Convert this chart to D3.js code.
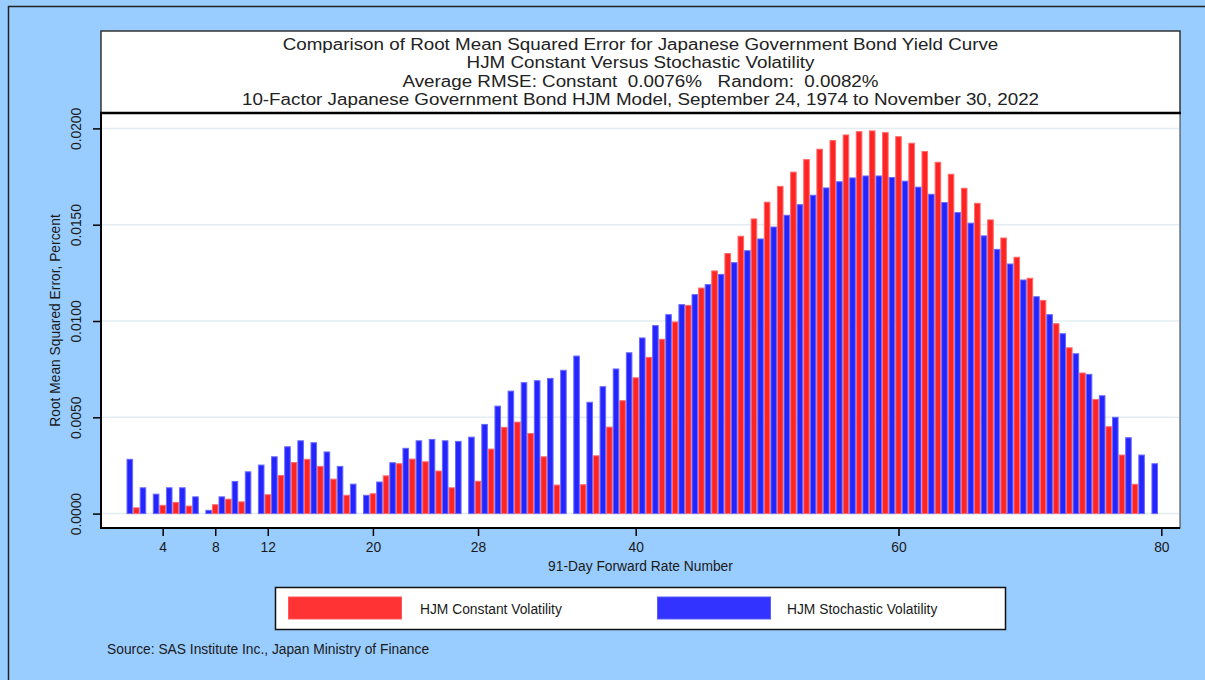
<!DOCTYPE html>
<html><head><meta charset="utf-8">
<script src="https://cdn.jsdelivr.net/npm/d3@7"></script>
<style>body{margin:0;background:#99ccff;}svg{display:block;font-family:"Liberation Sans",Arial,sans-serif;}text{white-space:pre;}</style>
</head><body>
<script>
const titleLines = [
  "Comparison of Root Mean Squared Error for Japanese Government Bond Yield Curve",
  "HJM Constant Versus Stochastic Volatility",
  "Average RMSE: Constant  0.0076%   Random:  0.0082%",
  "10-Factor Japanese Government Bond HJM Model, September 24, 1974 to November 30, 2022"
];
const seriesNames = ["HJM Constant Volatility", "HJM Stochastic Volatility"];
const xTicks = [4, 8, 12, 20, 28, 40, 60, 80];
const yTicks = [0, 0.005, 0.01, 0.015, 0.02];
const xTitle = "91-Day Forward Rate Number";
const yTitle = "Root Mean Squared Error, Percent";
const sourceText = "Source: SAS Institute Inc., Japan Ministry of Finance";

// forward rate numbers 1..79
const rateNumbers = d3.range(1, 80);
// HJM constant volatility RMSE (null = no bar)
const constantVol = [
  null, 0.0003, null, 0.00043, 0.00058, 0.00039, null, 0.00046, 0.00075, 0.00061,
  null, 0.00098, 0.00198, 0.00265, 0.00282, 0.00245, 0.00179, 0.00095, null, 0.00103,
  0.00196, 0.00259, 0.00283, 0.00269, 0.00221, 0.00134, null, 0.00168, 0.00335, 0.00448,
  0.00475, 0.00416, 0.00295, 0.00148, null, 0.0015, 0.003, 0.00449, 0.00586, 0.00705,
  0.00811, 0.00905, 0.00995, 0.01081, 0.01171, 0.0126, 0.0135, 0.0144, 0.0153, 0.01617,
  0.01699, 0.01773, 0.01838, 0.01892, 0.01937, 0.01966, 0.01983, 0.01987, 0.01978, 0.01957,
  0.01923, 0.0188, 0.01824, 0.01762, 0.01689, 0.01611, 0.01525, 0.01431, 0.01331, 0.01222,
  0.01107, 0.00986, 0.00861, 0.0073, 0.00593, 0.00451, 0.00304, 0.00152, null
];
// HJM stochastic volatility RMSE
const stochasticVol = [
  0.00282, 0.00134, 0.00101, 0.00134, 0.00134, 0.00087, 0.00017, 0.00087, 0.00167, 0.00217,
  0.00252, 0.00295, 0.00347, 0.00378, 0.00368, 0.0032, 0.00245, 0.00153, 0.00095, 0.00164,
  0.00264, 0.00339, 0.00378, 0.00385, 0.00378, 0.00375, 0.00397, 0.00463, 0.00558, 0.00636,
  0.0068, 0.0069, 0.00702, 0.00744, 0.00818, 0.00578, 0.00659, 0.00751, 0.00835, 0.00912,
  0.00976, 0.01033, 0.01085, 0.01137, 0.01189, 0.01242, 0.01303, 0.01365, 0.01426, 0.01488,
  0.01549, 0.01604, 0.01653, 0.01691, 0.01723, 0.01743, 0.01753, 0.01753, 0.01745, 0.01726,
  0.01695, 0.01658, 0.01615, 0.01563, 0.01508, 0.01442, 0.01372, 0.01296, 0.01213, 0.01126,
  0.01033, 0.00934, 0.0083, 0.00723, 0.00612, 0.005, 0.00394, 0.00304, 0.00259
];

const W = 1205, H = 680;
const svg = d3.select("body").append("svg").attr("width", W).attr("height", H);
const ink = "#1a1a1a";
const fs = 13.8;

// outer frame
svg.append("rect").attr("x", 0).attr("y", 0).attr("width", W).attr("height", H).attr("fill", "#99ccff");
svg.append("path").attr("d", `M8.5,${H} L8.5,6.5 L${W},6.5`).attr("fill", "none").attr("stroke", "#222").attr("stroke-width", 1.5);

const plotL = 101, plotR = 1180, plotT = 113, plotB = 528;

// title box
svg.append("rect").attr("x", plotL).attr("y", 31).attr("width", plotR - plotL).attr("height", plotT - 31)
  .attr("fill", "#fff").attr("stroke", "#333").attr("stroke-width", 1.5);
const tg = svg.append("g").attr("font-size", 15.8).attr("fill", "#222").attr("text-anchor", "middle");
titleLines.forEach((t, i) => {
  tg.append("text")
    .attr("transform", `translate(${(plotL + plotR) / 2},${50 + i * 18.4}) scale(1.19,1)`)
    .attr("xml:space", "preserve").text(t);
});

// plot area
svg.append("rect").attr("x", plotL).attr("y", plotT).attr("width", plotR - plotL).attr("height", plotB - plotT)
  .attr("fill", "#fff").attr("stroke", "#333").attr("stroke-width", 1);

const x = d3.scaleLinear().domain([0, 80]).range([110.1, 1161.3]);
const y = d3.scaleLinear().domain([0, 0.02]).range([513.6, 128.4]);

// grid
svg.append("g").selectAll("line").data(yTicks).join("line")
  .attr("x1", plotL + 1).attr("x2", plotR - 1)
  .attr("y1", d => y(d)).attr("y2", d => y(d))
  .attr("stroke", "#e3ecf0").attr("stroke-width", 1.5);

const bw = x(0.5) - x(0);
const redData = rateNumbers.map((n, i) => ({n, v: constantVol[i]})).filter(d => d.v != null);
const blueData = rateNumbers.map((n, i) => ({n, v: stochasticVol[i]})).filter(d => d.v != null);

svg.append("g").selectAll("rect").data(redData).join("rect")
  .attr("x", d => x(d.n) - bw / 2 + 0.5).attr("width", bw - 1)
  .attr("y", d => y(d.v)).attr("height", d => y(0) - y(d.v))
  .attr("fill", "#ff2424").attr("stroke", "#ff6a6a").attr("stroke-width", 1);
svg.append("g").selectAll("rect").data(blueData).join("rect")
  .attr("x", d => x(d.n + 0.5) - bw / 2 + 0.5).attr("width", bw - 1)
  .attr("y", d => y(d.v)).attr("height", d => y(0) - y(d.v))
  .attr("fill", "#2424ff").attr("stroke", "#6a6aff").attr("stroke-width", 1);

// thick top border and axes
svg.append("line").attr("x1", plotL - 1).attr("x2", plotR + 1).attr("y1", plotT).attr("y2", plotT)
  .attr("stroke", "#000").attr("stroke-width", 2.5);

const xAxis = d3.axisBottom(x).tickValues(xTicks).tickSize(8).tickSizeOuter(0).tickPadding(6);
const gx = svg.append("g").attr("transform", `translate(0,${plotB})`).call(xAxis);
gx.select(".domain").attr("d", `M${plotL - 1},0H${plotR}`).attr("stroke", "#000").attr("stroke-width", 2);
gx.selectAll(".tick line").attr("stroke", "#000").attr("stroke-width", 1.5);
gx.selectAll(".tick text").attr("font-size", fs).attr("fill", ink).attr("font-family", "Liberation Sans, Arial, sans-serif");

const yAxis = d3.axisLeft(y).tickValues(yTicks).tickSize(8).tickSizeOuter(0).tickFormat(d3.format(".4f"));
const gy = svg.append("g").attr("transform", `translate(${plotL},0)`).call(yAxis);
gy.select(".domain").attr("d", `M0,${plotT}V${plotB + 1}`).attr("stroke", "#000").attr("stroke-width", 2);
gy.selectAll(".tick line").attr("stroke", "#000").attr("stroke-width", 1.5);
gy.selectAll(".tick text")
  .attr("font-size", fs).attr("fill", ink).attr("font-family", "Liberation Sans, Arial, sans-serif")
  .attr("x", null).attr("dy", null)
  .attr("text-anchor", "middle")
  .attr("transform", "translate(-25,0) rotate(-90)")
  .attr("dominant-baseline", "central");

svg.append("text").attr("x", (plotL + plotR) / 2).attr("y", 571).attr("text-anchor", "middle")
  .attr("font-size", fs).attr("fill", ink).text(xTitle);
svg.append("text").attr("transform", `translate(60,${(plotT + plotB) / 2}) rotate(-90)`)
  .attr("text-anchor", "middle").attr("font-size", fs).attr("fill", ink).text(yTitle);

// legend
svg.append("rect").attr("x", 275.5).attr("y", 587.5).attr("width", 730).attr("height", 42)
  .attr("fill", "#fff").attr("stroke", "#111").attr("stroke-width", 1.5);
const legColors = [["#ff3333", "#ff5a5a"], ["#3333ff", "#5a5aff"]];
const legX = [288.5, 657.5], legTX = [420, 787];
seriesNames.forEach((s, i) => {
  svg.append("rect").attr("x", legX[i]).attr("y", 597).attr("width", 113).attr("height", 22)
    .attr("fill", legColors[i][0]).attr("stroke", legColors[i][1]).attr("stroke-width", 1);
  svg.append("text").attr("x", legTX[i]).attr("y", 614).attr("font-size", fs).attr("fill", ink).text(s);
});

svg.append("text").attr("x", 107).attr("y", 654).attr("font-size", fs).attr("fill", ink).text(sourceText);
</script>
</body></html>
